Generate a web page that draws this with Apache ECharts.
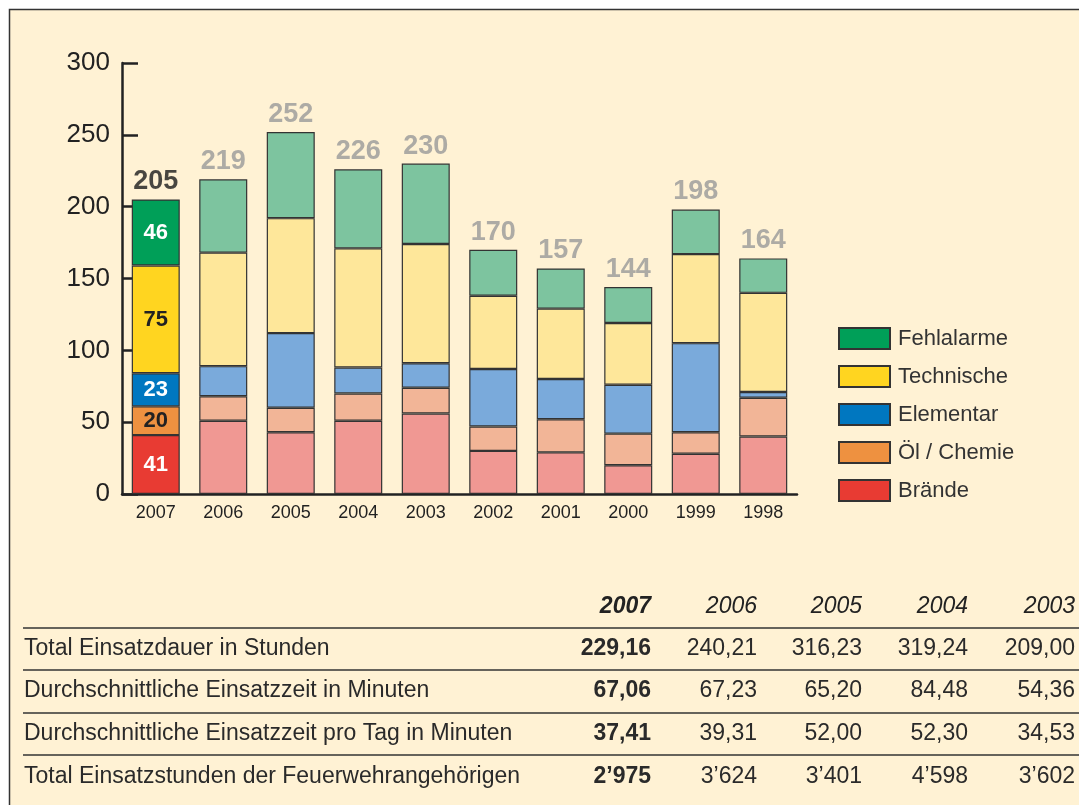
<!DOCTYPE html>
<html>
<head>
<meta charset="utf-8">
<script src="https://cdn.jsdelivr.net/npm/echarts@6/dist/echarts.min.js"></script>
<style>
html,body{margin:0;padding:0;background:#fff;}
#chart{width:1079px;height:805px;}
</style>
</head>
<body>
<div id="chart"></div>
<script>
var years = ['2007','2006','2005','2004','2003','2002','2001','2000','1999','1998'];
var braende    = [41, 51, 43, 51, 56, 30, 29, 20, 28, 40];
var oelChemie  = [20, 17, 17, 19, 18, 17, 23, 22, 15, 27];
var elementar  = [23, 21, 52, 18, 17, 40, 28, 34, 62, 4];
var technische = [75, 79, 80, 83, 83, 51, 49, 43, 62, 69];
var fehlalarme = [46, 51, 60, 55, 56, 32, 28, 25, 31, 24];
var yTicks = [0, 50, 100, 150, 200, 250, 300];

var tableYears = ['2007','2006','2005','2004','2003'];
var rowLabels = [
	'Total Einsatzdauer in Stunden',
	'Durchschnittliche Einsatzzeit in Minuten',
	'Durchschnittliche Einsatzzeit pro Tag in Minuten',
	'Total Einsatzstunden der Feuerwehrangehörigen'
];
var rowValues = [
	['229,16','240,21','316,23','319,24','209,00'],
	['67,06','67,23','65,20','84,48','54,36'],
	['37,41','39,31','52,00','52,30','34,53'],
	['2’975','3’624','3’401','4’598','3’602']
];

window.onload = function(){
	var font = '"Liberation Sans", Arial, sans-serif';
	var myChart = echarts.init(document.getElementById('chart'));

	var totals = years.map(function(y, i){
		return braende[i] + oelChemie[i] + elementar[i] + technische[i] + fehlalarme[i];
	});

	// first year bright, the rest muted
	function items(vals, bright, muted, labelColor){
		return vals.map(function(v, i){
			if(i === 0){
				return {value: v, itemStyle: {color: bright}, label: {show: true, color: labelColor}};
			}
			return {value: v, itemStyle: {color: muted}};
		});
	}

	function barSeries(name, vals, bright, muted, labelColor){
		return {
			name: name,
			type: 'bar',
			stack: 'total',
			barWidth: 48,
			itemStyle: {color: bright, borderColor: '#333', borderWidth: 1.2},
			label: {
				show: false,
				position: 'inside',
				fontFamily: font,
				fontSize: 22,
				fontWeight: 'bold'
			},
			data: items(vals, bright, muted, labelColor)
		};
	}

	// table drawn as graphic texts
	var colX = [651, 757, 862, 968, 1075];
	var rowY = [649, 691, 734, 777];
	var lineY = [628, 670, 713, 755];
	var graphics = [{
		type: 'rect',
		z: -10,
		shape: {x: 9.5, y: 9.5, width: 1200, height: 1000},
		style: {fill: '#fff2d4', stroke: '#333', lineWidth: 1.5},
		silent: true
	}];
	lineY.forEach(function(y){
		graphics.push({
			type: 'line',
			shape: {x1: 23, y1: y, x2: 1079, y2: y},
			style: {stroke: '#333', lineWidth: 1.3}
		});
	});
	tableYears.forEach(function(t, c){
		graphics.push({
			type: 'text',
			x: colX[c], y: 607,
			style: {
				text: t, textAlign: 'right', textVerticalAlign: 'middle',
				font: (c === 0 ? 'italic bold ' : 'italic ') + '23px ' + font,
				fill: '#222'
			}
		});
	});
	rowLabels.forEach(function(lbl, r){
		graphics.push({
			type: 'text',
			x: 24, y: rowY[r],
			style: {text: lbl, textAlign: 'left', textVerticalAlign: 'middle', font: '23px ' + font, fill: '#2a2a2a'}
		});
		rowValues[r].forEach(function(v, c){
			graphics.push({
				type: 'text',
				x: colX[c], y: rowY[r],
				style: {
					text: v, textAlign: 'right', textVerticalAlign: 'middle',
					font: (c === 0 ? 'bold ' : '') + '23px ' + font,
					fill: '#2a2a2a'
				}
			});
		});
	});

	var option = {
		animation: false,
		backgroundColor: 'transparent',
		graphic: graphics,
		grid: {left: 122, right: 282, top: 63, bottom: 311},
		legend: {
			data: ['Fehlalarme','Technische','Elementar','Öl / Chemie','Brände'],
			orient: 'vertical',
			left: 838,
			top: 327,
			padding: 0,
			itemWidth: 51,
			itemHeight: 21,
			itemGap: 15,
			icon: 'rect',
			selectedMode: false,
			textStyle: {fontFamily: font, fontSize: 22, color: '#333', padding: [0, 0, 0, 3]}
		},
		xAxis: {
			type: 'category',
			data: years,
			axisLine: {lineStyle: {color: '#222', width: 2.5}},
			axisTick: {inside: true, length: 8, lineStyle: {color: '#222', width: 2.5}},
			axisLabel: {fontFamily: font, fontSize: 18, color: '#222', margin: 10}
		},
		yAxis: {
			type: 'value',
			min: yTicks[0],
			max: yTicks[yTicks.length - 1],
			interval: yTicks[1] - yTicks[0],
			axisLine: {show: true, lineStyle: {color: '#222', width: 2.5}},
			axisTick: {show: true, inside: true, length: 16, lineStyle: {color: '#222', width: 2.5}},
			splitLine: {show: false},
			axisLabel: {fontFamily: font, fontSize: 26, color: '#222', margin: 12}
		},
		series: [
			barSeries('Brände', braende, '#e83b33', '#f09893', '#fff'),
			barSeries('Öl / Chemie', oelChemie, '#ee9140', '#f2b597', '#222'),
			barSeries('Elementar', elementar, '#0077c0', '#7aaadb', '#fff'),
			barSeries('Technische', technische, '#ffd520', '#fee79a', '#222'),
			barSeries('Fehlalarme', fehlalarme, '#009f58', '#7dc49f', '#fff'),
			{
				name: 'Total',
				type: 'scatter',
				symbolSize: 0,
				silent: true,
				label: {
					show: true,
					position: 'top',
					distance: 4,
					fontFamily: font,
					fontSize: 27,
					fontWeight: 'bold',
					color: '#999',
					formatter: '{c}'
				},
				data: totals.map(function(v, i){
					return i === 0 ? {value: v, label: {color: '#1a1a1a'}} : v;
				})
			}
		]
	};
	myChart.setOption(option);
	window.addEventListener('resize', function(){
		myChart.resize();
	});
};
</script>
</body>
</html>
